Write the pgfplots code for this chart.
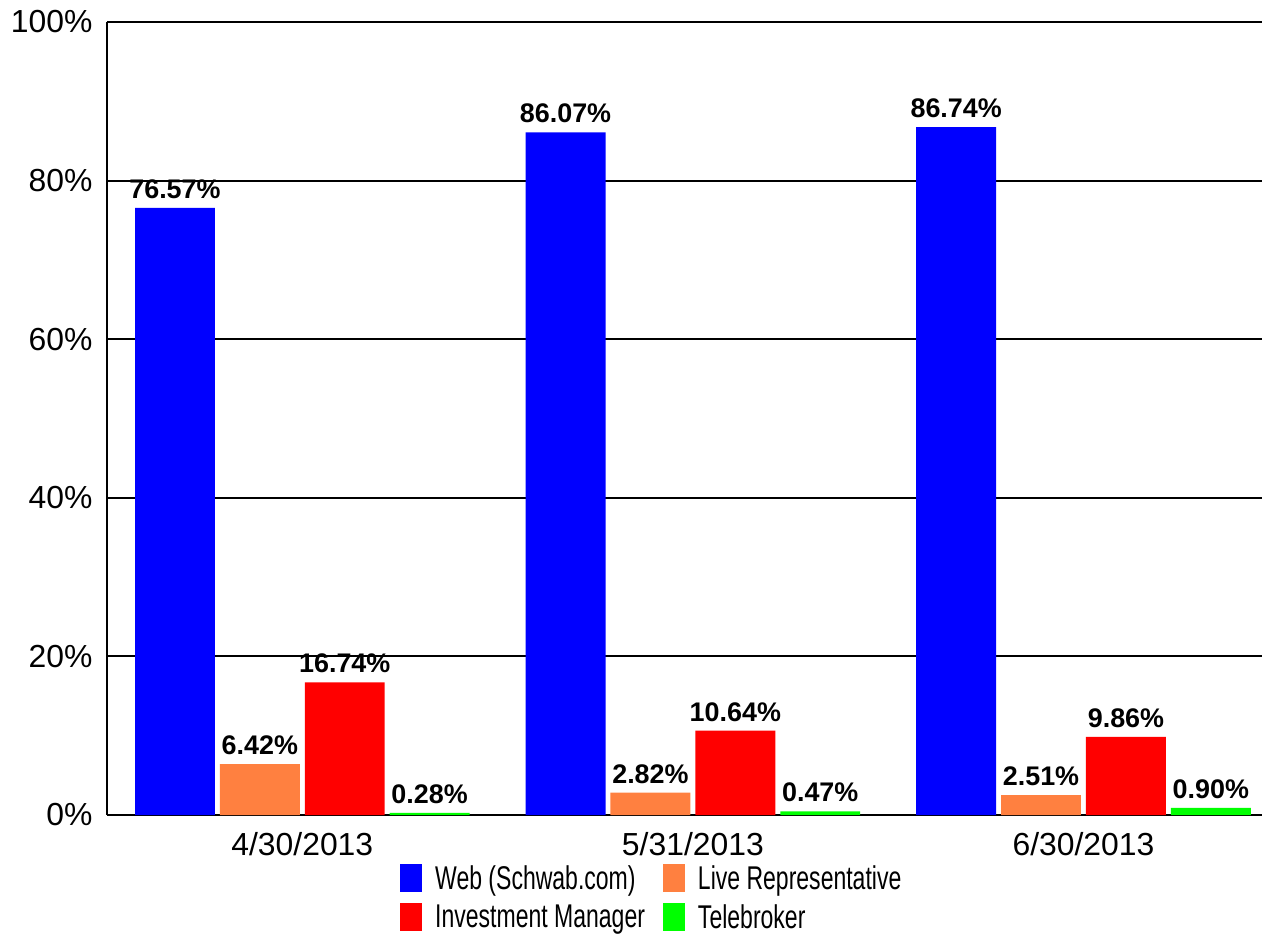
\documentclass[border=0pt]{standalone}
\usepackage{pgfplots}
\pgfplotsset{compat=1.18}
\usepackage{fontspec}
\setmainfont{Liberation Sans}
\newfontfamily\legfont[FakeStretch=0.7]{Liberation Sans}
\definecolor{cweb}{RGB}{0,0,255}
\definecolor{clive}{RGB}{255,128,64}
\definecolor{cinv}{RGB}{255,0,0}
\definecolor{ctel}{RGB}{0,255,0}
\pgfplotsset{sqlegend/.style={legend image code/.code={\path[draw=none,##1] (0bp,-14bp) rectangle (22bp,14bp);}}}
\begin{document}
\begin{tikzpicture}
\useasboundingbox (-107bp,-120bp) rectangle (1155bp,815bp);
\begin{axis}[
  scale only axis, width=1155bp, height=793bp,
  xmin=-0.5, xmax=2.457, ymin=0, ymax=100,
  axis x line*=bottom, axis y line*=left,
  axis line style={line width=2.5bp, -},
  ymajorgrids, grid style={black, line width=2bp},
  ytick={0,20,...,100},
  yticklabel={\pgfmathprintnumber{\tick}\%},
  xtick={0,1,2}, xticklabels={4/30/2013,5/31/2013,6/30/2013},
  major tick length=0pt,
  tick label style={font=\fontsize{32}{36}\selectfont},
  yticklabel style={xshift=-11bp},
  xticklabel style={yshift=-14bp},
  /pgf/number format/assume math mode=true,
  ybar, bar width=0.2046,
  nodes near coords={\pgfmathprintnumber[fixed,fixed zerofill,precision=2,assume math mode=true]{\pgfplotspointmeta}\%},
  nodes near coords style={font=\bfseries\fontsize{27}{32}\selectfont, inner sep=3bp, yshift=6bp},
  legend columns=2,
  legend cell align=left,
  legend style={at={(0.2537,-0.0617)}, anchor=north west, draw=none, fill=none,
    font=\legfont\fontsize{33}{38}\selectfont, inner sep=0pt,
    nodes={inner sep=1bp},
    /tikz/row sep=11bp,
    /tikz/every odd column/.append style={column sep=12bp},
    /tikz/every even column/.append style={column sep=17bp}},
]
\addplot[fill=cweb, draw=none, bar shift=-0.326, sqlegend] coordinates {(0,76.57) (1,86.07) (2,86.74)};
\addplot[fill=clive, draw=none, bar shift=-0.1087, sqlegend] coordinates {(0,6.42) (1,2.82) (2,2.51)};
\addplot[fill=cinv, draw=none, bar shift=0.1087, sqlegend] coordinates {(0,16.74) (1,10.64) (2,9.86)};
\addplot[fill=ctel, draw=none, bar shift=0.326, sqlegend] coordinates {(0,0.28) (1,0.47) (2,0.90)};
\legend{Web (Schwab.com), Live Representative, Investment Manager, Telebroker}
\end{axis}
\end{tikzpicture}
\end{document}
